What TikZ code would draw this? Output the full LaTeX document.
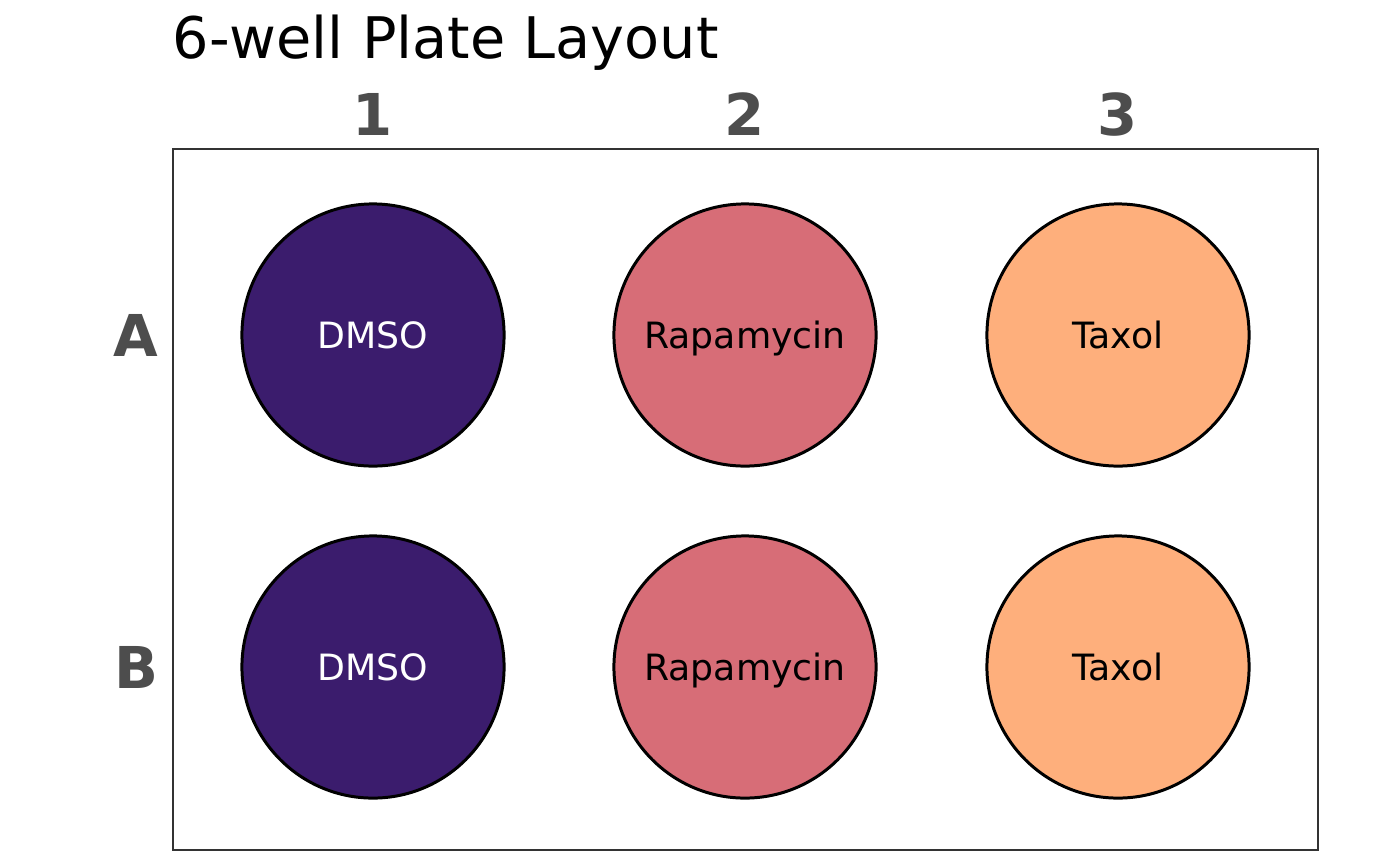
\documentclass[tikz,border=0pt]{standalone}
\usepackage{fontspec}
\setmainfont{DejaVu Sans}
\usepackage{tikz}

\definecolor{dmsocol}{HTML}{3B1C6D}
\definecolor{rapacol}{HTML}{D76D77}
\definecolor{taxolcol}{HTML}{FEAF7C}
\definecolor{labelgray}{HTML}{4D4D4D}
\definecolor{framegray}{HTML}{333333}

\tikzset{
  well/.style={circle, draw=black, line width=0.85pt, minimum size=2.62cm, inner sep=0pt,
    text height=0.26cm, text depth=0pt, font=\fontsize{10.3pt}{12pt}\selectfont},
  axislabel/.style={anchor=base, text=labelgray, font=\fontsize{16.4pt}{20pt}\selectfont\bfseries}
}

\begin{document}
\begin{tikzpicture}[x=0.01cm, y=-0.01cm]
  \useasboundingbox (0,0) rectangle (1400,866);
  % title
  \node[anchor=base west, inner sep=0pt, font=\fontsize{16.3pt}{20pt}\selectfont] (title) at (172,58) {6-well Plate Layout};
  % plate frame
  \draw[framegray, line width=0.75pt] (173,149) rectangle (1318,850);
  % column and row labels
  \node[axislabel] (col1) at (373,135) {1};
  \node[axislabel] (col2) at (745,135) {2};
  \node[axislabel] (col3) at (1118,135) {3};
  \node[axislabel] (rowA) at (136,356) {A};
  \node[axislabel] (rowB) at (136,688) {B};
  % wells
  \node[well, fill=dmsocol, text=white] (A1) at (373,335) {DMSO};
  \node[well, fill=rapacol] (A2) at (745,335) {Rapamycin};
  \node[well, fill=taxolcol] (A3) at (1118,335) {Taxol};
  \node[well, fill=dmsocol, text=white] (B1) at (373,667) {DMSO};
  \node[well, fill=rapacol] (B2) at (745,667) {Rapamycin};
  \node[well, fill=taxolcol] (B3) at (1118,667) {Taxol};
\end{tikzpicture}
\end{document}
